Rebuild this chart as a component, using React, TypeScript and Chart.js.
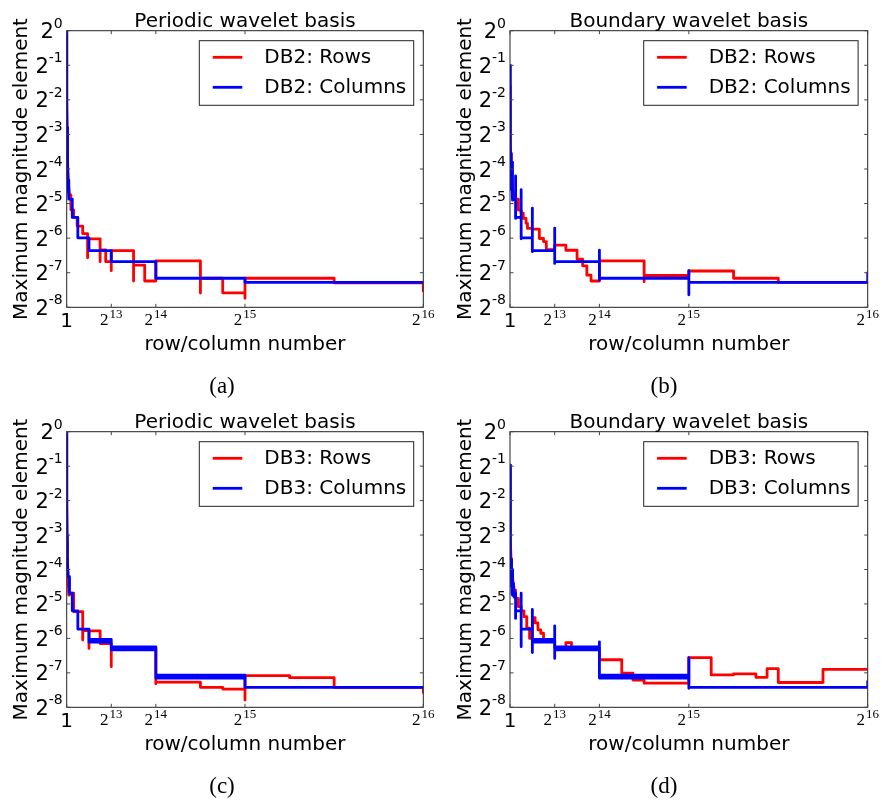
import React, { useEffect, useRef } from 'react';
import { Chart, registerables } from 'chart.js';

Chart.register(...registerables);

const SANS = '"DejaVu Sans", sans-serif';
const SERIF = '"Liberation Serif", "DejaVu Serif", serif';

// ---- axis ticks and texts ----
const X_TICKS = [1, 8192, 16384, 32768, 65536];
const X_TICK_EXP = ['', '13', '14', '15', '16'];
const Y_TICK_EXP = [0, -1, -2, -3, -4, -5, -6, -7, -8];
const TITLES = ['Periodic wavelet basis', 'Boundary wavelet basis', 'Periodic wavelet basis', 'Boundary wavelet basis'];
const CAPTIONS = ['(a)', '(b)', '(c)', '(d)'];
const ROW_LABELS = ['DB2: Rows', 'DB2: Rows', 'DB3: Rows', 'DB3: Rows'];
const COL_LABELS = ['DB2: Columns', 'DB2: Columns', 'DB3: Columns', 'DB3: Columns'];
const X_TITLE = 'row/column number';
const Y_TITLE = 'Maximum magnitude element';

type Pt = [number, number]; // [row/column number, log2 of maximum magnitude]

// ---- (a) periodic DB2 ----
const A_ROWS: Pt[] = [[1, 0], [4, -1.2], [16, -2.2], [64, -3.0], [128, -3.6], [256, -4.3], [512, -4.75], [768, -4.75], [768, -5.18], [1280, -5.18], [1280, -5.40], [1920, -5.40], [1920, -5.65], [2944, -5.65], [2944, -5.87], [3840, -5.87], [3840, -6.57], [3840, -6.02], [6144, -6.02], [6144, -6.68], [6144, -6.34], [7168, -6.34], [7168, -6.68], [8192, -6.68], [8192, -6.94], [8192, -6.36], [12288, -6.36], [12288, -7.24], [12288, -6.78], [14336, -6.78], [14336, -7.24], [16384, -7.24], [16384, -6.66], [24576, -6.66], [24576, -7.59], [24576, -7.16], [28672, -7.16], [28672, -7.58], [32768, -7.58], [32768, -7.74], [32768, -7.16], [49152, -7.16], [49152, -7.29], [65536, -7.29], [65536, -7.53]];
const A_COLS: Pt[] = [[1, 0], [4, -1], [16, -2], [64, -2.8], [128, -3.25], [192, -3.9], [256, -4.32], [384, -4.32], [384, -4.87], [1024, -4.87], [1024, -5.40], [2048, -5.40], [2048, -5.99], [4096, -5.99], [4096, -6.36], [8192, -6.36], [8192, -6.68], [16384, -6.68], [16384, -7.16], [32768, -7.16], [32768, -7.28], [65536, -7.28]];

// ---- (b) boundary DB2 ----
const B_ROWS: Pt[] = [[1, -1.6], [16, -2.4], [64, -3.2], [256, -4.2], [512, -4.6], [1024, -4.87], [1536, -4.87], [1536, -5.19], [2048, -5.19], [2048, -5.28], [2432, -5.28], [2432, -5.43], [2944, -5.43], [2944, -5.57], [3200, -5.57], [3200, -5.72], [4096, -5.72], [4096, -5.74], [5376, -5.74], [5376, -6.01], [6144, -6.01], [6144, -6.1], [6656, -6.1], [6656, -6.33], [8192, -6.33], [8192, -6.2], [10240, -6.2], [10240, -6.35], [12288, -6.35], [12288, -6.61], [13312, -6.61], [13312, -6.80], [14080, -6.80], [14080, -7.07], [14848, -7.07], [14848, -7.24], [16384, -7.24], [16384, -6.66], [24576, -6.66], [24576, -7.26], [24576, -7.08], [32768, -7.08], [32768, -6.95], [40960, -6.95], [40960, -7.16], [49152, -7.16], [49152, -7.28], [65536, -7.28]];
const B_COLS: Pt[] = [[1, -1.0], [16, -2.0], [64, -2.9], [128, -3.6], [192, -4.2], [256, -3.55], [256, -4.6], [384, -4.6], [384, -3.8], [384, -4.9], [512, -4.9], [512, -4.0], [512, -4.9], [768, -4.87], [1024, -4.87], [1024, -4.2], [1024, -5.43], [1024, -5.40], [2048, -5.40], [2048, -4.6], [2048, -6.02], [2048, -5.99], [4096, -5.99], [4096, -5.13], [4096, -6.39], [4096, -6.36], [8192, -6.36], [8192, -5.71], [8192, -6.73], [8192, -6.68], [16384, -6.68], [16384, -6.35], [16384, -7.21], [16384, -7.16], [32768, -7.16], [32768, -6.94], [32768, -7.64], [32768, -7.28], [65536, -7.28], [65536, -6.97]];

// ---- (c) periodic DB3 ----
const C_ROWS: Pt[] = [[1, 0], [4, -1.2], [16, -2.2], [64, -3.2], [128, -3.8], [256, -4.21], [384, -4.74], [512, -4.74], [512, -4.69], [1280, -4.69], [1280, -5.22], [2944, -5.22], [2944, -6.05], [2944, -5.77], [4096, -5.77], [4096, -6.29], [4096, -5.78], [6144, -5.78], [6144, -6.15], [8192, -6.15], [8192, -6.82], [8192, -6.3], [16384, -6.3], [16384, -7.32], [16384, -7.27], [24576, -7.27], [24576, -7.42], [28672, -7.42], [28672, -7.47], [32768, -7.47], [32768, -7.79], [32768, -7.08], [40960, -7.08], [40960, -7.14], [49152, -7.14], [49152, -7.42], [65536, -7.42], [65536, -7.57]];
const C_COLS: Pt[] = [[1, 0], [4, -1], [16, -2], [64, -3], [128, -3.7], [256, -4.21], [512, -4.21], [512, -4.69], [1024, -4.69], [1024, -5.2], [2048, -5.2], [2048, -5.73], [4096, -5.73], [4096, -6.03], [8192, -6.03], [8192, -6.11], [4096, -6.11], [4096, -6.07], [8192, -6.07], [8192, -6.25], [16384, -6.25], [16384, -6.33], [8192, -6.33], [8192, -6.29], [16384, -6.29], [16384, -7.07], [32768, -7.07], [32768, -7.15], [16384, -7.15], [16384, -7.11], [32768, -7.11], [32768, -7.42], [65536, -7.42]];

// ---- (d) boundary DB3 ----
const D_ROWS: Pt[] = [[1, -0.97], [16, -2.2], [64, -3.1], [256, -3.9], [512, -4.3], [768, -4.6], [1024, -4.6], [1024, -4.84], [1536, -4.84], [1536, -5.08], [2048, -5.08], [2048, -5.2], [2560, -5.2], [2560, -5.37], [3072, -5.37], [3072, -5.7], [3584, -5.7], [3584, -6.0], [4096, -6.0], [4096, -5.4], [4608, -5.4], [4608, -5.55], [5120, -5.55], [5120, -5.75], [5632, -5.75], [5632, -5.85], [6144, -5.85], [6144, -6.05], [8192, -6.05], [8192, -6.28], [10240, -6.28], [10240, -6.12], [11264, -6.12], [11264, -6.28], [16384, -6.28], [16384, -6.62], [20480, -6.62], [20480, -7.01], [22528, -7.01], [22528, -7.21], [24576, -7.21], [24576, -7.3], [32768, -7.3], [32768, -6.56], [36864, -6.56], [36864, -7.06], [40960, -7.06], [40960, -7.03], [45056, -7.03], [45056, -7.13], [47104, -7.13], [47104, -6.88], [49152, -6.88], [49152, -7.28], [57344, -7.28], [57344, -6.9], [65536, -6.9]];
const D_COLS: Pt[] = [[1, -0.97], [8, -2.0], [32, -3.0], [96, -3.6], [160, -4.2], [224, -3.7], [256, -4.5], [320, -3.9], [384, -4.7], [448, -4.0], [512, -4.75], [640, -4.4], [768, -4.8], [1024, -4.69], [1024, -5.42], [1024, -5.2], [2048, -5.2], [2048, -4.69], [2048, -6.24], [2048, -5.73], [4096, -5.73], [4096, -5.16], [4096, -6.41], [4096, -6.03], [8192, -6.03], [8192, -6.11], [4096, -6.11], [4096, -6.07], [8192, -6.07], [8192, -5.64], [8192, -6.58], [8192, -6.25], [16384, -6.25], [16384, -6.33], [8192, -6.33], [8192, -6.29], [16384, -6.29], [16384, -6.1], [16384, -7.14], [16384, -7.07], [32768, -7.07], [32768, -7.15], [16384, -7.15], [16384, -7.11], [32768, -7.11], [32768, -6.56], [32768, -7.45], [32768, -7.42], [65536, -7.42], [65536, -7.22]];

const ROWS = [A_ROWS, B_ROWS, C_ROWS, D_ROWS];
const COLS = [A_COLS, B_COLS, C_COLS, D_COLS];

const toData = (pts: Pt[]) => pts.map(([x, e]) => ({ x, y: Math.pow(2, e) }));

const RED = '#ff0000';
const BLUE = '#0000ff';

const decor = {
  id: 'decor',
  afterDatasetsDraw(chart: any, _args: any, opts: any) {
    const idx: number = opts.idx;
    const { ctx, chartArea: a } = chart;
    const xs = chart.scales.x;
    const ys = chart.scales.y;
    const cx = (a.left + a.right) / 2;
    ctx.save();

    // frame
    ctx.strokeStyle = '#222';
    ctx.lineWidth = 1;
    ctx.strokeRect(a.left, a.top, a.right - a.left, a.bottom - a.top);

    // inward ticks on all sides
    const TL = 3.5;
    ctx.strokeStyle = '#444';
    ctx.beginPath();
    Y_TICK_EXP.forEach((k) => {
      const py = ys.getPixelForValue(Math.pow(2, k));
      ctx.moveTo(a.left, py); ctx.lineTo(a.left + TL, py);
      ctx.moveTo(a.right, py); ctx.lineTo(a.right - TL, py);
    });
    X_TICKS.forEach((v) => {
      const px = xs.getPixelForValue(v);
      ctx.moveTo(px, a.bottom); ctx.lineTo(px, a.bottom - TL);
      ctx.moveTo(px, a.top); ctx.lineTo(px, a.top + TL);
    });
    ctx.stroke();

    ctx.fillStyle = '#000';
    // y tick labels: 2^k
    Y_TICK_EXP.forEach((k) => {
      const py = ys.getPixelForValue(Math.pow(2, k));
      const ex = String(k);
      ctx.font = `14px ${SANS}`;
      const ew = ctx.measureText(ex).width;
      ctx.font = `21px ${SANS}`;
      const bw = ctx.measureText('2').width;
      const right = a.left - 4;
      ctx.textAlign = 'left';
      ctx.textBaseline = 'alphabetic';
      ctx.fillText('2', right - ew - bw, py + 7.5);
      ctx.font = `14px ${SANS}`;
      ctx.fillText(ex, right - ew, py - 3);
    });

    // x tick labels
    X_TICKS.forEach((v, i) => {
      const px = xs.getPixelForValue(v);
      ctx.textBaseline = 'alphabetic';
      if (X_TICK_EXP[i] === '') {
        ctx.font = `20px ${SANS}`;
        ctx.textAlign = 'center';
        ctx.fillText(String(v), px, a.bottom + 19.8);
        return;
      }
      ctx.textAlign = 'left';
      ctx.font = `17px ${SERIF}`;
      const bw = ctx.measureText('2').width;
      ctx.font = `13px ${SERIF}`;
      const ew = ctx.measureText(X_TICK_EXP[i]).width;
      const start = px - (bw + ew + 1) / 2;
      ctx.font = `17px ${SERIF}`;
      ctx.fillText('2', start, a.bottom + 18);
      ctx.font = `13px ${SERIF}`;
      ctx.fillText(X_TICK_EXP[i], start + bw + 1, a.bottom + 11);
    });

    // title
    ctx.font = `20px ${SANS}`;
    ctx.textAlign = 'center';
    ctx.textBaseline = 'alphabetic';
    ctx.fillText(TITLES[idx], cx, a.top - 4.2);

    // x axis title
    ctx.fillText(X_TITLE, cx, a.bottom + 43);

    // y axis title
    ctx.save();
    ctx.translate(a.left - 39.5, (a.top + a.bottom) / 2);
    ctx.rotate(-Math.PI / 2);
    ctx.textAlign = 'center';
    ctx.textBaseline = 'alphabetic';
    ctx.fillText(Y_TITLE, 0, 0);
    ctx.restore();

    // legend
    const bwid = 214.4;
    const bh = 64.6;
    const bx = a.right - 9.6 - bwid;
    const by = a.top + 10;
    ctx.fillStyle = '#fff';
    ctx.fillRect(bx, by, bwid, bh);
    ctx.strokeStyle = '#222';
    ctx.lineWidth = 1;
    ctx.strokeRect(bx, by, bwid, bh);
    const entries = [
      { c: RED, t: ROW_LABELS[idx], dy: 16.6 },
      { c: BLUE, t: COL_LABELS[idx], dy: 46.6 },
    ];
    entries.forEach((en) => {
      ctx.strokeStyle = en.c;
      ctx.lineWidth = 2.8;
      ctx.beginPath();
      ctx.moveTo(bx + 13.4, by + en.dy);
      ctx.lineTo(bx + 43, by + en.dy);
      ctx.stroke();
      ctx.fillStyle = '#000';
      ctx.font = `20px ${SANS}`;
      ctx.textAlign = 'left';
      ctx.textBaseline = 'middle';
      ctx.fillText(en.t, bx + 65, by + en.dy);
    });

    // caption
    ctx.font = `23px ${SERIF}`;
    ctx.textAlign = 'center';
    ctx.textBaseline = 'alphabetic';
    ctx.fillStyle = '#000';
    ctx.fillText(CAPTIONS[idx], 222, opts.captionY);

    ctx.restore();
  },
};

type PanelProps = { idx: number; left: number; top: number; w: number; h: number; pad: { left: number; top: number; right: number; bottom: number }; captionY: number };

function Panel({ idx, left, top, w, h, pad, captionY }: PanelProps) {
  const ref = useRef<HTMLCanvasElement>(null);
  useEffect(() => {
    const common = { pointRadius: 0, borderWidth: 2.8, tension: 0, fill: false, borderJoinStyle: 'round' as const, clip: 0 };
    const chart = new Chart(ref.current as HTMLCanvasElement, {
      type: 'line',
      data: {
        datasets: [
          { label: ROW_LABELS[idx], data: toData(ROWS[idx]), borderColor: RED, backgroundColor: RED, order: 1, ...common },
          { label: COL_LABELS[idx], data: toData(COLS[idx]), borderColor: BLUE, backgroundColor: BLUE, order: 0, ...common },
        ],
      },
      options: {
        responsive: false,
        animation: false,
        events: [],
        layout: { padding: pad },
        scales: {
          x: { type: 'linear', min: 1, max: 65536, display: false },
          y: { type: 'logarithmic', min: Math.pow(2, -8), max: 1, display: false },
        },
        plugins: {
          legend: { display: false },
          tooltip: { enabled: false },
          title: { display: false },
          // @ts-ignore
          decor: { idx, captionY },
        },
      } as any,
      plugins: [decor as any],
    });
    return () => chart.destroy();
  }, [idx]);
  return <canvas ref={ref} width={w} height={h} style={{ position: 'absolute', left, top, width: w, height: h }} />;
}

export default function App() {
  const panels: PanelProps[] = [
    { idx: 0, left: 0, top: 0, w: 442, h: 400, pad: { left: 66.7, top: 30.7, right: 442 - 423.3, bottom: 400 - 307.3 }, captionY: 393 },
    { idx: 1, left: 442, top: 0, w: 442, h: 400, pad: { left: 68, top: 30.7, right: 442 - 425.7, bottom: 400 - 307.3 }, captionY: 393 },
    { idx: 2, left: 0, top: 401, w: 442, h: 404, pad: { left: 66.7, top: 30.7, right: 442 - 423.3, bottom: 404 - 306.3 }, captionY: 392 },
    { idx: 3, left: 442, top: 401, w: 442, h: 404, pad: { left: 68, top: 30.7, right: 442 - 425.7, bottom: 404 - 306.3 }, captionY: 392 },
  ];
  return (
    <div style={{ position: 'absolute', left: 0, top: 0, width: 884, height: 805, background: '#fff' }}>
      {panels.map((p) => (
        <Panel key={p.idx} {...p} />
      ))}
    </div>
  );
}
